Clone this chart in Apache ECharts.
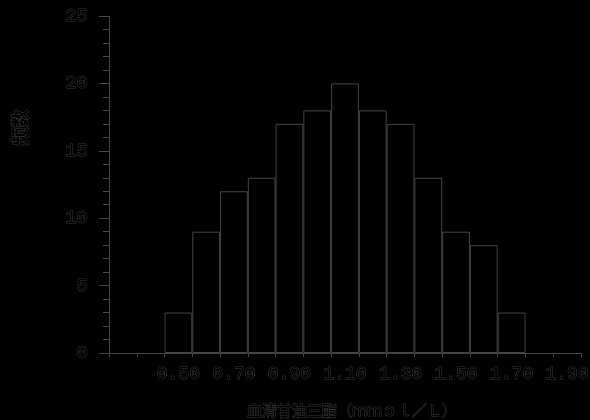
<!DOCTYPE html>
<html>
<head>
<meta charset="utf-8">
<script src="https://cdn.jsdelivr.net/npm/echarts@6/dist/echarts.min.js"></script>
<style>
  html, body { margin: 0; padding: 0; background: #000; }
  #main { width: 590px; height: 420px; }
</style>
</head>
<body>
<div id="main"></div>
<script>
// bin centres (mmol/L) and counts
var bins = ['0.30', '0.40', '0.50', '0.60', '0.70', '0.80', '0.90', '1.00', '1.10',
  '1.20', '1.30', '1.40', '1.50', '1.60', '1.70', '1.80', '1.90'];
var counts = ['-', '-', 3, 9, 12, 13, 17, 18, 20, 18, 17, 13, 9, 8, 3, '-', '-'];
var shownLabels = ['0.50', '0.70', '0.90', '1.10', '1.30', '1.50', '1.70', '1.90'];

var lineColor = '#454545';
// text in the original is black with a faint grey rim, so draw it outlined
var textStyle = {
  color: '#000',
  textBorderColor: '#3a3a3a',
  textBorderWidth: 1
};

var chart = echarts.init(document.getElementById('main'));

chart.setOption({
  backgroundColor: '#000',
  animation: false,
  grid: {
    left: 109,
    right: 9,
    top: 16,
    bottom: 67,
    containLabel: false,
    outerBoundsMode: 'none'
  },
  xAxis: {
    type: 'category',
    data: bins,
    boundaryGap: true,
    name: '血清甘油三酯（ｍｍｏｌ／Ｌ）',
    nameLocation: 'middle',
    nameGap: 50,
    nameTextStyle: Object.assign({
      fontFamily: 'Noto Sans CJK SC',
      fontSize: 15,
      padding: [0, 0, 0, 14]
    }, textStyle),
    axisLine: { lineStyle: { color: lineColor, width: 1 } },
    axisTick: {
      show: true,
      interval: 0,
      length: 4,
      lineStyle: { color: lineColor }
    },
    axisLabel: Object.assign({
      interval: function (idx, val) {
        return shownLabels.indexOf(val) >= 0;
      },
      fontFamily: 'Liberation Mono',
      fontSize: 18,
      margin: 12
    }, textStyle),
    splitLine: { show: false }
  },
  yAxis: {
    type: 'value',
    min: 0,
    max: 25,
    interval: 5,
    name: '频数',
    nameLocation: 'middle',
    nameRotate: 90,
    nameGap: 80,
    nameTextStyle: Object.assign({
      fontFamily: 'Noto Sans CJK SC',
      fontSize: 18,
      fontWeight: 'bold',
      padding: [0, 0, 0, 114]
    }, textStyle),
    axisLine: { show: true, lineStyle: { color: lineColor, width: 1 } },
    axisTick: {
      show: true,
      length: 10,
      lineStyle: { color: lineColor }
    },
    minorTick: {
      show: true,
      splitNumber: 5,
      length: 6,
      lineStyle: { color: lineColor }
    },
    axisLabel: Object.assign({
      fontFamily: 'Liberation Mono',
      fontSize: 19,
      margin: 21
    }, textStyle),
    splitLine: { show: false }
  },
  series: [{
    type: 'bar',
    data: counts,
    barCategoryGap: '0%',
    barWidth: '100%',
    itemStyle: {
      color: '#000',
      borderColor: lineColor,
      borderWidth: 1
    }
  }]
});
</script>
</body>
</html>
